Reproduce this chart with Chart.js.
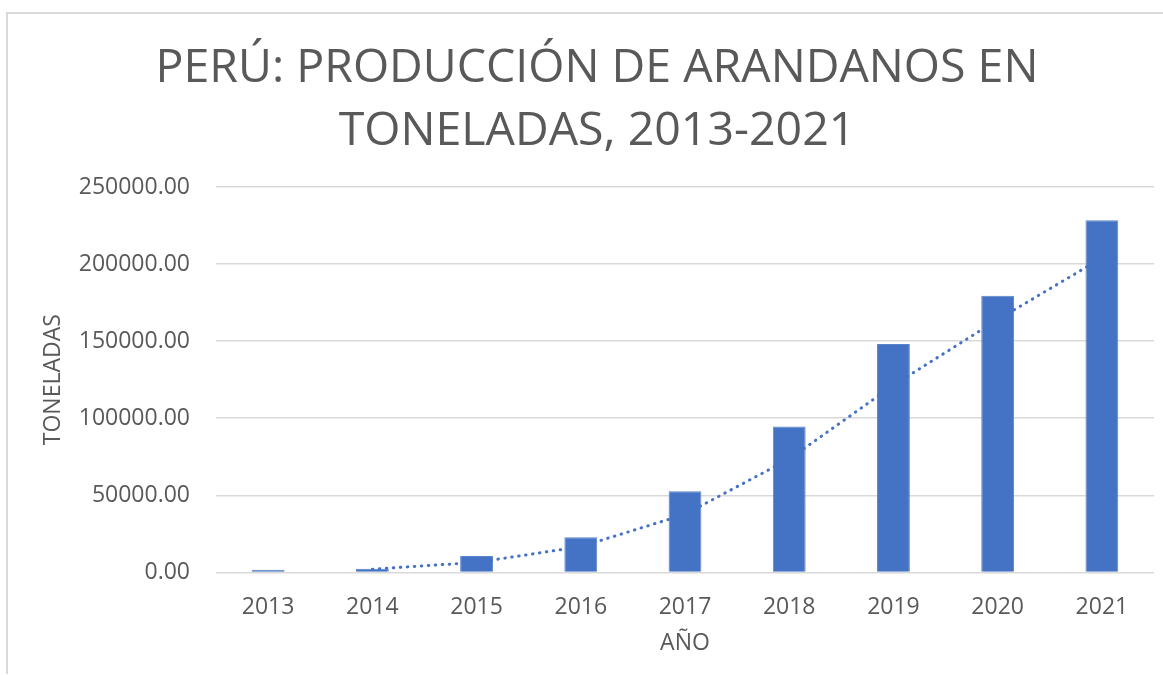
<!DOCTYPE html>
<html>
<head>
<meta charset="utf-8">
<script src="https://cdn.jsdelivr.net/npm/chart.js@4.4.1/dist/chart.umd.min.js"></script>
<style>
  html, body { margin: 0; padding: 0; background: #ffffff; }
  #wrap { position: relative; width: 1163px; height: 675px; overflow: hidden; }
  #frame {
    position: absolute; left: 6px; top: 12px; width: 1200px; height: 660px;
    border-left: 2px solid #d9d9d9; border-top: 2px solid #d9d9d9;
  }
  canvas { position: absolute; left: 0; top: 0; }
</style>
</head>
<body>
<div id="wrap">
  <div id="frame"></div>
  <canvas id="chart" width="1163" height="675"></canvas>
</div>
<script>
// years on the x axis
const years = ['2013', '2014', '2015', '2016', '2017', '2018', '2019', '2020', '2021'];
// blueberry production, tonnes
const production = [1800, 2400, 10600, 22800, 52700, 94600, 148200, 179500, 228500];
// dotted trend line (2-period moving average as drawn in the picture)
const trend = [null, 2100, 6500, 16700, 37700, 73600, 121400, 164000, 204000];
// y axis ticks
const yTicks = [0, 50000, 100000, 150000, 200000, 250000];

const grey = '#595959';
const blue = '#4472C4';
const fontFamily = "'Open Sans', 'Liberation Sans', sans-serif";

const ctx = document.getElementById('chart').getContext('2d');
new Chart(ctx, {
    data: {
        labels: years,
        datasets: [
            {
                type: 'line',
                data: trend,
                borderColor: blue,
                borderWidth: 3,
                borderDash: [0.5, 6.5],
                borderCapStyle: 'round',
                pointRadius: 0,
                tension: 0,
                spanGaps: false,
                order: 0
            },
            {
                type: 'bar',
                data: production,
                backgroundColor: blue,
                borderColor: '#5b84cc',
                borderWidth: 1,
                categoryPercentage: 1,
                barPercentage: 0.315,
                order: 1
            }
        ]
    },
    options: {
        responsive: false,
        animation: false,
        layout: { padding: { top: 17, left: 40, right: 9, bottom: 19 } },
        plugins: {
            legend: { display: false },
            tooltip: { enabled: false },
            title: {
                display: true,
                text: ['PERÚ: PRODUCCIÓN DE ARANDANOS EN', 'TONELADAS, 2013-2021'],
                color: grey,
                font: { family: fontFamily, size: 46.5, weight: 'normal', lineHeight: 1.355 },
                padding: { top: 20, bottom: 24 }
            }
        },
        scales: {
            x: {
                grid: { display: false },
                border: { display: false },
                ticks: { color: grey, font: { family: fontFamily, size: 23, lineHeight: 1.1 }, padding: 14 },
                title: {
                    display: true,
                    text: 'AÑO',
                    color: grey,
                    font: { family: fontFamily, size: 23, lineHeight: 1.1 },
                    padding: { top: -3, bottom: 0 }
                }
            },
            y: {
                min: 0,
                max: 250000,
                afterBuildTicks: (scale) => { scale.ticks = yTicks.map(v => ({ value: v })); },
                afterFit: (scale) => { scale.width = 176; },
                grid: { color: '#d9d9d9', lineWidth: 1.5, drawTicks: false },
                border: { display: false },
                ticks: {
                    color: grey,
                    font: { family: fontFamily, size: 23 },
                    padding: 26,
                    callback: (v) => Number(v).toFixed(2)
                },
                title: {
                    display: true,
                    text: 'TONELADAS',
                    color: grey,
                    font: { family: fontFamily, size: 23 },
                    padding: { top: 0, bottom: 0 }
                }
            }
        }
    }
});
</script>
</body>
</html>
